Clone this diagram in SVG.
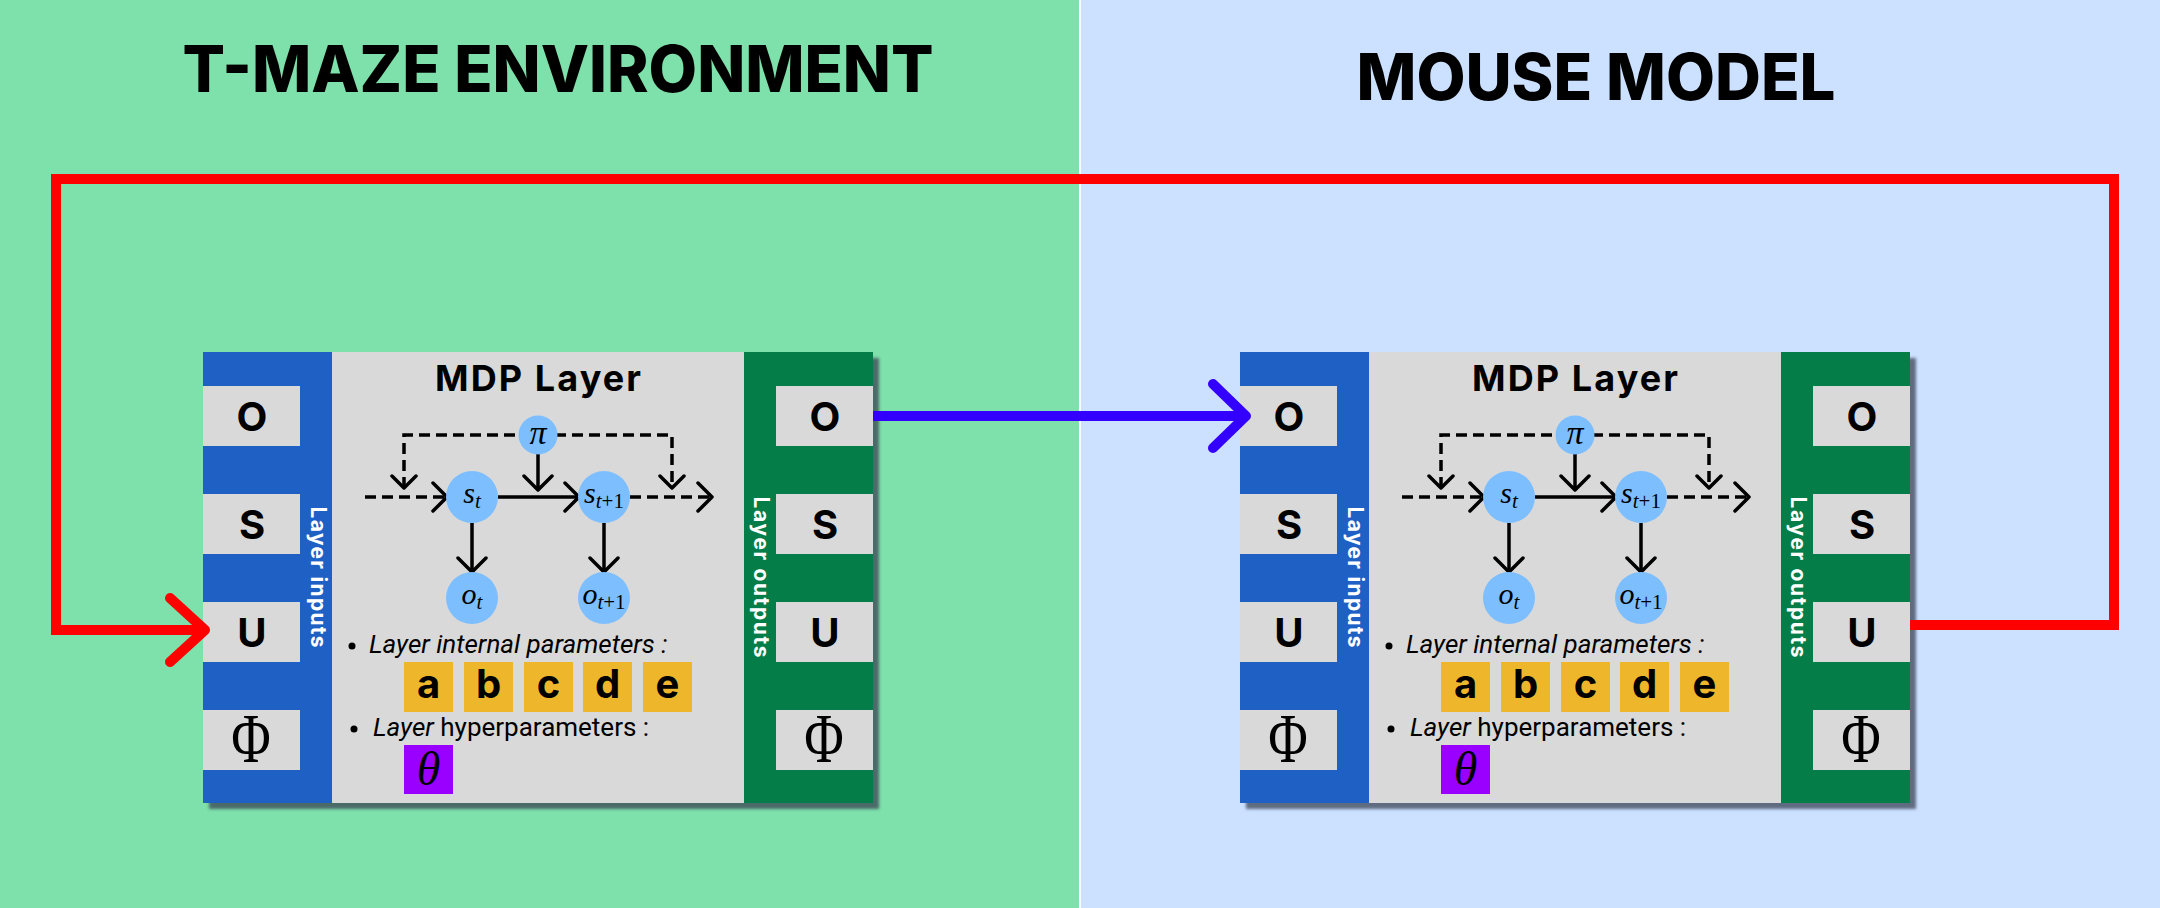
<svg xmlns="http://www.w3.org/2000/svg" width="2160" height="908" viewBox="0 0 2160 908">
<style>
.title{font-family:Inter,"Liberation Sans",sans-serif;font-weight:800;font-size:64px;fill:#000;text-anchor:middle}
.hdr{font-family:Inter,"Liberation Sans",sans-serif;font-weight:700;font-size:36px;fill:#000;text-anchor:middle}
.port{fill:#d9d9d9}
.plab{font-family:Inter,"Liberation Sans",sans-serif;font-weight:700;font-size:40px;fill:#000;text-anchor:middle}
.phi{font-family:"Liberation Serif",serif;font-size:54px;fill:#000;text-anchor:middle}
.side{font-family:Inter,"Liberation Sans",sans-serif;font-weight:700;font-size:21px;fill:#fff;text-anchor:middle}
.circ{fill:#7dbeff}
.math{font-family:"Liberation Serif",serif;font-style:italic;font-size:30px;fill:#000;text-anchor:middle}
.sub{font-size:21px}
.up{font-style:normal}
.solid{fill:none;stroke:#000;stroke-width:3.5}
.dash{fill:none;stroke:#000;stroke-width:3.5;stroke-dasharray:11 6}
.head{fill:none;stroke:#000;stroke-width:3.5;stroke-linecap:round;stroke-linejoin:round}
.bul{font-family:Roboto,"Liberation Sans",sans-serif;font-size:26px;fill:#000}
.par{fill:#eeb62b}
.plet{font-family:Inter,"Liberation Sans",sans-serif;font-weight:700;font-size:40px;fill:#000;text-anchor:middle}
.red{fill:none;stroke:#ff0000;stroke-width:10}
.redh{fill:none;stroke:#ff0000;stroke-width:10;stroke-linecap:round;stroke-linejoin:round}
.blue{fill:none;stroke:#3300ff;stroke-width:10}
.blueh{fill:none;stroke:#3300ff;stroke-width:10;stroke-linecap:round;stroke-linejoin:round}
</style>
<defs>
<filter id="sh" x="-5%" y="-5%" width="115%" height="115%">
<feDropShadow dx="6" dy="6" stdDeviation="1.5" flood-color="#3a4456" flood-opacity="0.75"/>
</filter>
<g id="layer">
<rect x="203" y="352" width="670" height="451" fill="#d9d9d9" filter="url(#sh)"/>
<rect x="203" y="352" width="129" height="451" fill="#1f60c4"/>
<rect x="744" y="352" width="129" height="451" fill="#047d48"/>
<rect x="332" y="352" width="412" height="451" fill="#d9d9d9"/>
<rect class="port" x="203" y="386" width="97" height="60"/>
<rect class="port" x="203" y="494" width="97" height="60"/>
<rect class="port" x="203" y="602" width="97" height="60"/>
<rect class="port" x="203" y="710" width="97" height="60"/>
<text class="plab" x="252" y="431">O</text>
<text class="plab" x="252" y="539">S</text>
<text class="plab" x="252" y="647">U</text>
<text class="phi" transform="translate(251,762) scale(1,1.3)">Φ</text>
<rect class="port" x="776" y="386" width="97" height="60"/>
<rect class="port" x="776" y="494" width="97" height="60"/>
<rect class="port" x="776" y="602" width="97" height="60"/>
<rect class="port" x="776" y="710" width="97" height="60"/>
<text class="plab" x="825" y="431">O</text>
<text class="plab" x="825" y="539">S</text>
<text class="plab" x="825" y="647">U</text>
<text class="phi" transform="translate(824,762) scale(1,1.3)">Φ</text>
<text class="side" transform="translate(311,577) rotate(90)" textLength="141">Layer inputs</text>
<text class="side" transform="translate(754,577) rotate(90)" textLength="161">Layer outputs</text>
<text class="hdr" x="538" y="391" textLength="206">MDP Layer</text>
<path class="dash" d="M404,488 V435 H672 V488"/>
<path class="head" d="M392,476 L404,488 L416,476 M660,476 L672,488 L684,476"/>
<path class="dash" d="M365,497 H445 M630,497 H710"/>
<path class="head" d="M433,483 L447,497 L433,511 M698,483 L712,497 L698,511"/>
<path class="solid" d="M498,497 H577 M538,454 V489 M472,523 V571 M604,523 V571"/>
<path class="head" d="M565,483 L579,497 L565,511 M524,476 L538,490 L552,476 M458,558 L472,572 L486,558 M590,558 L604,572 L618,558"/>
<circle class="circ" cx="538" cy="435" r="19.5"/>
<circle class="circ" cx="472" cy="497" r="26"/>
<circle class="circ" cx="604" cy="497" r="26"/>
<circle class="circ" cx="472" cy="598" r="26"/>
<circle class="circ" cx="604" cy="598" r="26"/>
<text class="math" x="538" y="444" style="font-size:34px">π</text>
<text class="math" x="472" y="503">s<tspan class="sub" dy="5">t</tspan></text>
<text class="math" x="604" y="503">s<tspan class="sub" dy="5">t</tspan><tspan class="sub up">+1</tspan></text>
<text class="math" x="472" y="604">o<tspan class="sub" dy="5">t</tspan></text>
<text class="math" x="604" y="604">o<tspan class="sub" dy="5">t</tspan><tspan class="sub up">+1</tspan></text>
<circle cx="352" cy="646" r="3.5" fill="#000"/>
<text class="bul" x="369" y="653" font-style="italic">Layer internal parameters :</text>
<rect class="par" x="404" y="662" width="49" height="50"/>
<rect class="par" x="464" y="662" width="49" height="50"/>
<rect class="par" x="524" y="662" width="49" height="50"/>
<rect class="par" x="583" y="662" width="49" height="50"/>
<rect class="par" x="643" y="662" width="49" height="50"/>
<text class="plet" x="428.5" y="698">a</text>
<text class="plet" x="488.5" y="698">b</text>
<text class="plet" x="548.5" y="698">c</text>
<text class="plet" x="607.5" y="698">d</text>
<text class="plet" x="667.5" y="698">e</text>
<circle cx="354" cy="729" r="3.5" fill="#000"/>
<text class="bul" x="373" y="736"><tspan font-style="italic">Layer</tspan> hyperparameters :</text>
<rect x="404" y="745" width="49" height="49" fill="#9900ff"/>
<text class="math" x="428.5" y="785" style="font-size:48px">θ</text>
</g>
</defs>
<g id="background">
<rect x="0" y="0" width="1080" height="908" fill="#7ee0aa"/>
<rect x="1080" y="0" width="1080" height="908" fill="#cce0ff"/>
<rect x="1079" y="0" width="2" height="908" fill="#ffffff"/>
</g>
<g id="titles">
<text class="title" x="558" y="92" textLength="751" lengthAdjust="spacingAndGlyphs">T-MAZE ENVIRONMENT</text>
<text class="title" x="1596" y="100" textLength="479" lengthAdjust="spacingAndGlyphs">MOUSE MODEL</text>
</g>
<g id="env-layer"><use href="#layer"/></g>
<g id="mouse-layer"><use href="#layer" transform="translate(1037,0)"/></g>
<g id="connectors">
<path class="red" d="M1910,625 H2114 V179 H56 V630 H204"/>
<path class="redh" d="M170,598 L205,630 L170,662"/>
<path class="blue" d="M873,416 H1245"/>
<path class="blueh" d="M1213,384 L1246,416 L1213,448"/>
</g>
</svg>
